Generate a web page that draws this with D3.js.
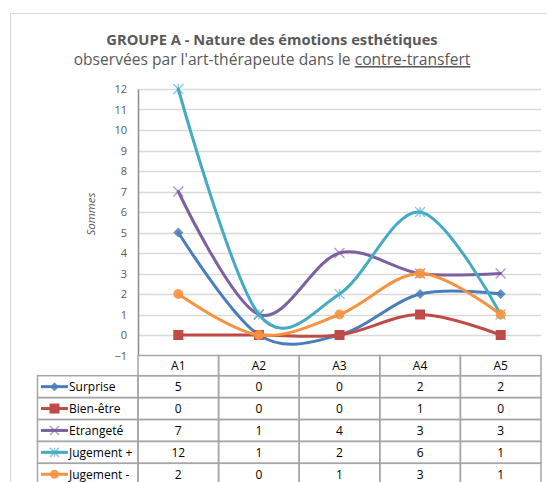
<!DOCTYPE html>
<html>
<head>
<meta charset="utf-8">
<script src="https://cdn.jsdelivr.net/npm/d3@7"></script>
<style>
  body { margin: 0; background: #fff; }
  text { font-family: "Open Sans", Lato, sans-serif; }
</style>
</head>
<body>
<div id="chart"></div>
<script>
// data
var categories = ["A1", "A2", "A3", "A4", "A5"];
var seriesNames = ["Surprise", "Bien-être", "Etrangeté", "Jugement +", "Jugement -"];
var surprise = [5, 0, 0, 2, 2];
var bienEtre = [0, 0, 0, 1, 0];
var etrangete = [7, 1, 4, 3, 3];
var jugementPlus = [12, 1, 2, 6, 1];
var jugementMoins = [2, 0, 1, 3, 1];
var yTicks = [-1, 0, 1, 2, 3, 4, 5, 6, 7, 8, 9, 10, 11, 12];

var seriesValues = [surprise, bienEtre, etrangete, jugementPlus, jugementMoins];
var colors = ["#4a7ebb", "#be4b48", "#7d60a0", "#46aac5", "#f69240"];
var markers = ["diamond", "square", "x", "asterisk", "circle"];

var W = 547, H = 482;
var plot = {left: 138, right: 541, top: 89, bottom: 355.5};

var svg = d3.select("#chart")
  .append("svg")
    .attr("width", W)
    .attr("height", H);

// outer frame
svg.append("rect")
  .attr("x", 10.5).attr("y", 13.5)
  .attr("width", 560).attr("height", 500)
  .attr("fill", "#fff")
  .attr("stroke", "#d9d9d9");

// titles
svg.append("text")
  .attr("x", 272).attr("y", 45)
  .attr("text-anchor", "middle")
  .style("font-size", "14.7px").style("font-weight", "bold")
  .attr("fill", "#595959")
  .text("GROUPE A - Nature des émotions esthétiques");
var sub = svg.append("text")
  .attr("x", 272).attr("y", 65)
  .attr("text-anchor", "middle")
  .style("font-size", "15.6px")
  .attr("fill", "#595959");
sub.append("tspan").text("observées par l'art-thérapeute dans le ");
sub.append("tspan").style("text-decoration", "underline").text("contre-transfert");

// scales
var x = d3.scaleBand()
  .domain(categories)
  .range([plot.left, plot.right]);
var y = d3.scaleLinear()
  .domain([-1, 12])
  .range([plot.bottom, plot.top]);

// gridlines
svg.append("g")
  .selectAll("line")
  .data(yTicks.filter(function (d) { return d > -1; }))
  .enter()
  .append("line")
    .attr("x1", plot.left).attr("x2", plot.right)
    .attr("y1", function (d) { return Math.round(y(d)) + 0.5; })
    .attr("y2", function (d) { return Math.round(y(d)) + 0.5; })
    .attr("stroke", "#d9d9d9")
    .attr("stroke-width", 1.3);

// Y axis
var yAxis = svg.append("g")
  .attr("transform", "translate(" + plot.left + ",0)")
  .call(d3.axisLeft(y).tickValues(yTicks).tickSize(0).tickPadding(11));
yAxis.select(".domain").attr("stroke", "#8c8c8c").attr("stroke-width", 1.5);
yAxis.selectAll("text")
  .attr("fill", "#595959")
  .style("font-size", "11px")
  .style("font-family", "'Open Sans', Lato, sans-serif");

svg.append("text")
  .attr("transform", "translate(95," + y(5.9) + ") rotate(-90)")
  .attr("text-anchor", "middle")
  .style("font-size", "11.5px").style("font-style", "italic")
  .attr("fill", "#595959")
  .text("Sommes");

// marker drawing
function drawMarker(g, type, color, size) {
  var s = size;
  if (type === "diamond") {
    g.append("path")
      .attr("d", "M0," + (-s) + "L" + s + ",0L0," + s + "L" + (-s) + ",0Z")
      .attr("fill", color).attr("opacity", 0.85);
  } else if (type === "square") {
    g.append("rect")
      .attr("x", -s).attr("y", -s).attr("width", 2 * s).attr("height", 2 * s)
      .attr("fill", color);
  } else if (type === "circle") {
    g.append("circle").attr("r", s).attr("fill", color).attr("opacity", 0.9);
  } else if (type === "x") {
    g.append("path")
      .attr("d", "M" + (-s) + "," + (-s) + "L" + s + "," + s + "M" + (-s) + "," + s + "L" + s + "," + (-s))
      .attr("stroke", color).attr("stroke-width", 1.5).attr("opacity", 0.6);
  } else if (type === "asterisk") {
    g.append("path")
      .attr("d", "M" + (-s) + "," + (-s) + "L" + s + "," + s + "M" + (-s) + "," + s + "L" + s + "," + (-s) + "M0," + (-s) + "L0," + s)
      .attr("stroke", color).attr("stroke-width", 1.5).attr("opacity", 0.6);
  }
}

// lines
var line = d3.line()
  .x(function (d, i) { return x(categories[i]) + x.bandwidth() / 2; })
  .y(function (d) { return y(d); })
  .curve(d3.curveCardinal.tension(0));

var seriesG = svg.append("g")
  .selectAll("g")
  .data(seriesValues)
  .enter()
  .append("g");

seriesG.append("path")
  .attr("d", function (d) { return line(d); })
  .attr("fill", "none")
  .attr("stroke", function (d, i) { return colors[i]; })
  .attr("stroke-width", 3)
  .attr("stroke-linecap", "round");

seriesG.each(function (vals, si) {
  var g = d3.select(this);
  vals.forEach(function (v, i) {
    var m = g.append("g")
      .attr("transform", "translate(" + (x(categories[i]) + x.bandwidth() / 2) + "," + y(v) + ")");
    drawMarker(m, markers[si], colors[si], 5);
  });
});

// data table
var headerTop = 355.5, headerH = 20.2, rowH = 21.9;
var legendLeft = 37.5;
var tableColor = "#a6a6a6";
var table = svg.append("g");

// header row
table.selectAll(".hcell")
  .data(categories)
  .enter()
  .append("rect")
    .attr("x", function (d) { return x(d); })
    .attr("y", headerTop)
    .attr("width", x.bandwidth())
    .attr("height", headerH)
    .attr("fill", "none")
    .attr("stroke", tableColor)
    .attr("stroke-width", 1.5);
table.selectAll(".htext")
  .data(categories)
  .enter()
  .append("text")
    .attr("x", function (d) { return x(d) + x.bandwidth() / 2; })
    .attr("y", headerTop + 14.5)
    .attr("text-anchor", "middle")
    .style("font-size", "12px")
    .attr("fill", "#000")
    .text(function (d) { return d; });

seriesNames.forEach(function (name, si) {
  var top = headerTop + headerH + si * rowH;
  table.append("rect")
    .attr("x", legendLeft).attr("y", top)
    .attr("width", plot.left - legendLeft).attr("height", rowH)
    .attr("fill", "none").attr("stroke", tableColor).attr("stroke-width", 1.5);
  // legend key
  table.append("line")
    .attr("x1", 41).attr("x2", 68)
    .attr("y1", top + rowH / 2).attr("y2", top + rowH / 2)
    .attr("stroke", colors[si]).attr("stroke-width", 3);
  var km = table.append("g").attr("transform", "translate(54.5," + (top + rowH / 2) + ")");
  drawMarker(km, markers[si], colors[si], markers[si] === "square" ? 5 : 4.5);
  table.append("text")
    .attr("x", 69).attr("y", top + rowH / 2 + 4.5)
    .style("font-size", "12px")
    .attr("fill", "#000")
    .text(name);

  categories.forEach(function (c, i) {
    table.append("rect")
      .attr("x", x(c)).attr("y", top)
      .attr("width", x.bandwidth()).attr("height", rowH)
      .attr("fill", "none").attr("stroke", tableColor).attr("stroke-width", 1.5);
    table.append("text")
      .attr("x", x(c) + x.bandwidth() / 2).attr("y", top + rowH / 2 + 4.5)
      .attr("text-anchor", "middle")
      .style("font-size", "12px")
      .attr("fill", "#000")
      .text(seriesValues[si][i]);
  });
});
</script>
</body>
</html>
